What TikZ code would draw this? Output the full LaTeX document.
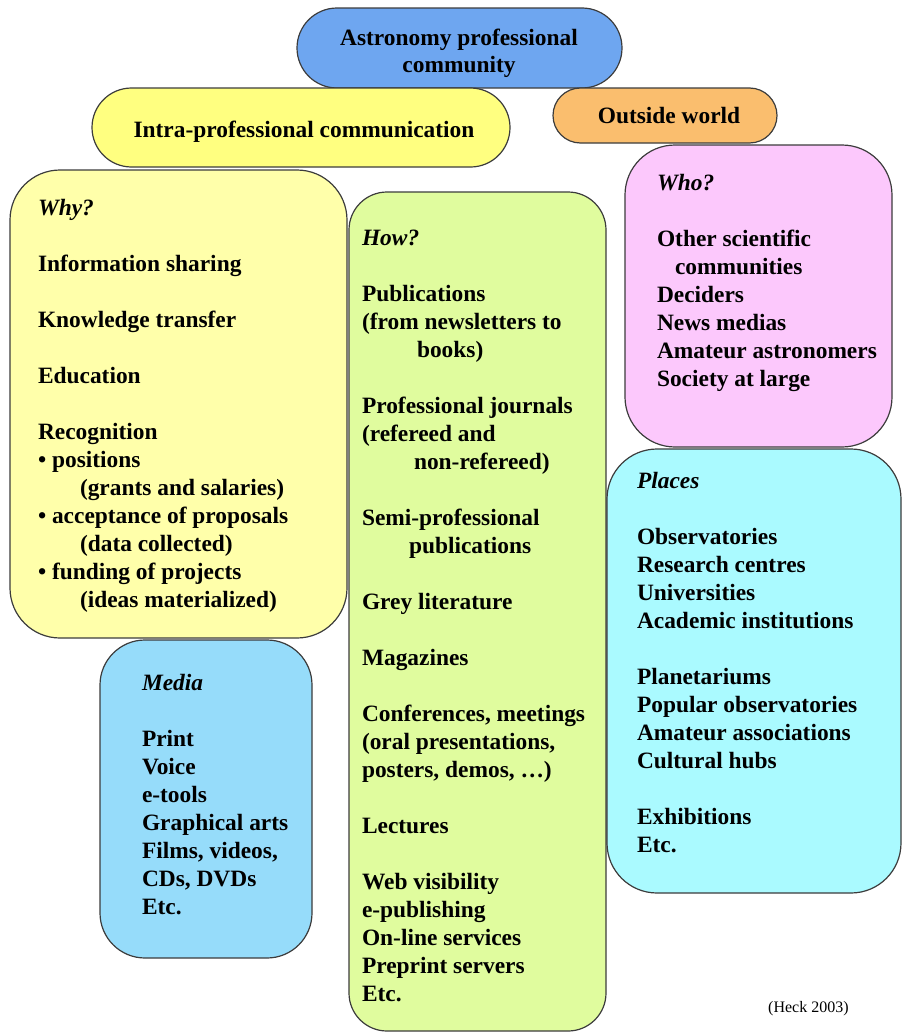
\documentclass[tikz,border=0pt]{standalone}
\usepackage{fontspec}
\setmainfont{Liberation Serif}
\definecolor{lineC}{RGB}{60,60,60}
\definecolor{blueT}{RGB}{110,166,240}
\definecolor{yellowT}{RGB}{255,255,128}
\definecolor{orangeT}{RGB}{250,190,110}
\definecolor{whyC}{RGB}{255,255,170}
\definecolor{howC}{RGB}{224,252,158}
\definecolor{whoC}{RGB}{252,200,252}
\definecolor{placesC}{RGB}{170,250,255}
\definecolor{mediaC}{RGB}{150,220,250}
\newcommand{\blk}[1]{\begin{tabular}[t]{@{}l@{}}#1\end{tabular}}
\newcommand{\cblk}[1]{\begin{tabular}[t]{@{}c@{}}#1\end{tabular}}
\begin{document}
\begin{tikzpicture}[x=1pt,y=-1pt,
  shp/.style={draw=lineC, line width=1.2pt, inner sep=0pt, outer sep=0pt},
  txt/.style={inner sep=0pt, outer sep=0pt, font=\fontsize{23.4}{28}\selectfont\bfseries, text=black},
  small/.style={inner sep=0pt, font=\fontsize{16}{19}\selectfont, text=black}]
\useasboundingbox (0,0) rectangle (904,1036);
% title capsules
\node[shp, fill=blueT, minimum width=325pt, minimum height=80pt, rounded corners=40pt] (astro) at (459.5,48) {};
\node[shp, fill=yellowT, minimum width=418pt, minimum height=79pt, rounded corners=39.5pt] (intra) at (301,127.5) {};
\node[shp, fill=orangeT, minimum width=224pt, minimum height=55pt, rounded corners=27.5pt] (outside) at (665,115.5) {};
\node[txt, anchor=base] (astrot) at (459,45) {\cblk{Astronomy professional\\community}};
\node[txt, anchor=base] (intrat) at (304,137) {Intra-professional communication};
\node[txt, anchor=base] (outsidet) at (669,123) {Outside world};
% boxes
\node[shp, fill=whyC, minimum width=337pt, minimum height=468pt, rounded corners=50pt] (whybox) at (178.5,404) {};
\node[shp, fill=howC, minimum width=257pt, minimum height=839pt, rounded corners=38pt] (howbox) at (477.5,611.5) {};
\node[shp, fill=mediaC, minimum width=212pt, minimum height=318pt, rounded corners=45pt] (mediabox) at (206,799) {};
\node[shp, fill=whoC, minimum width=267pt, minimum height=302pt, rounded corners=50pt] (whobox) at (758.5,296) {};
\node[shp, fill=placesC, minimum width=294pt, minimum height=444pt, rounded corners=50pt] (placesbox) at (754,671) {};
% texts
\node[txt, anchor=base west] (whyt) at (38,215) {\blk{\textit{Why?}\\[28pt]
Information sharing\\[28pt]
Knowledge transfer\\[28pt]
Education\\[28pt]
Recognition\\
• positions\\
\hspace*{42pt}(grants and salaries)\\
• acceptance of proposals\\
\hspace*{42pt}(data collected)\\
• funding of projects\\
\hspace*{42pt}(ideas materialized)}};
\node[txt, anchor=base west] (howt) at (362,245) {\blk{\textit{How?}\\[28pt]
Publications\\
(from newsletters to\\
\hspace*{55pt}books)\\[28pt]
Professional journals\\
(refereed and\\
\hspace*{52pt}non-refereed)\\[28pt]
Semi-professional\\
\hspace*{47pt}publications\\[28pt]
Grey literature\\[28pt]
Magazines\\[28pt]
Conferences, meetings\\
(oral presentations,\\
posters, demos, …)\\[28pt]
Lectures\\[28pt]
Web visibility\\
e-publishing\\
On-line services\\
Preprint servers\\
Etc.}};
\node[txt, anchor=base west] (whot) at (657,190) {\blk{\textit{Who?}\\[28pt]
Other scientific\\
\hspace*{18pt}communities\\
Deciders\\
News medias\\
Amateur astronomers\\
Society at large}};
\node[txt, anchor=base west] (placest) at (637,488) {\blk{\textit{Places}\\[28pt]
Observatories\\
Research centres\\
Universities\\
Academic institutions\\[28pt]
Planetariums\\
Popular observatories\\
Amateur associations\\
Cultural hubs\\[28pt]
Exhibitions\\
Etc.}};
\node[txt, anchor=base west] (mediat) at (142,690) {\blk{\textit{Media}\\[28pt]
Print\\
Voice\\
e-tools\\
Graphical arts\\
Films, videos,\\
CDs, DVDs\\
Etc.}};
\node[small, anchor=base west] (heck) at (768,1012) {(Heck 2003)};
\end{tikzpicture}
\end{document}
